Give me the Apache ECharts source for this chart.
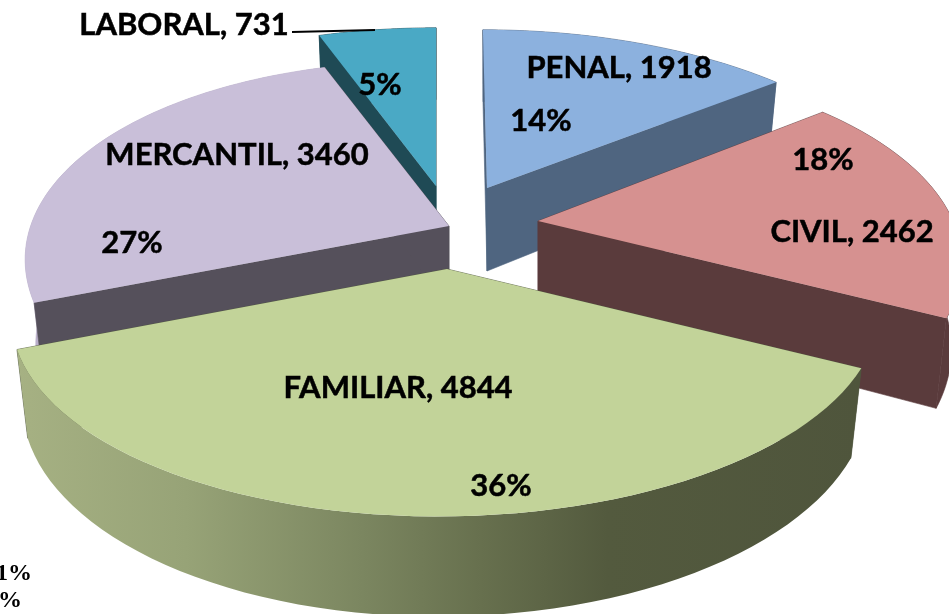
<!DOCTYPE html>
<html>
<head>
<meta charset="utf-8">
<script src="https://cdn.jsdelivr.net/npm/echarts@6/dist/echarts.min.js"></script>
<style>
html, body { margin: 0; padding: 0; background: #fff; }
#main { width: 949px; height: 614px; }
</style>
</head>
<body>
<div id="main"></div>
<script>
// datos
var categories = ['PENAL', 'CIVIL', 'FAMILIAR', 'MERCANTIL', 'LABORAL'];
var values = [1918, 2462, 4844, 3460, 731];
var percents = ['14%', '18%', '36%', '27%', '5%'];
var strayLabels = ['1%', '%'];

// colores: cara superior, paredes, borde exterior
var topColors = ['#8cb1de', '#d69190', '#c2d399', '#c9bfd9', '#4aa9c5'];
var wallColors = ['#4f6580', '#5a3b3c', '#4f553f', '#55505b', '#1f4a55'];
var rimColors = ['#4f6580', '#5a3b3c', null, '#b9aec9', '#1f4a55'];

// vertice de cada porcion separada
var apexes = [[487, 188], [538, 221], [447, 269], [449, 226], [436, 186]];
// ajuste fino de cada porcion: escala x, escala y, inclinacion x, inclinacion y
var sliceFit = [
    [1.01, 1, -5, 0],
    [0.985, 1.01, 0, -3],
    [1.008, 1, 7, 0],
    [0.99, 1.04, -11, 7],
    [1, 1, 0, 0]
];
// orden de pintado, de atras hacia adelante
var drawOrder = [4, 0, 3, 1, 2];

// centros de los textos: nombre y porcentaje
var namePos = [[619, 68], [852, 232], [398, 388], [237, 155], [184, 25]];
var pctPos = [[541, 121], [823, 160], [501, 486], [132, 243], [380, 85]];

// perspectiva
var RX = 420, RY = 193, PERSP = 0.22, DEPTH = 83, BOTTOM_SCALE = 0.975;

var total = values.reduce(function (a, b) { return a + b; }, 0);

function sliceAngles(i) {
    var before = 0;
    for (var k = 0; k < i; k++) before += values[k];
    return [before / total * Math.PI * 2, (before + values[i]) / total * Math.PI * 2];
}

function planeOffset(i, t) {
    var w = 1 + PERSP * Math.cos(t), f = sliceFit[i];
    return [
        (f[0] * RX * Math.sin(t) + f[2] * Math.cos(t)) / w,
        (-f[1] * RY * Math.cos(t) + f[3] * Math.sin(t)) / w
    ];
}

function topPoint(i, t) {
    var o = planeOffset(i, t);
    return [apexes[i][0] + o[0], apexes[i][1] + o[1]];
}

function bottomPoint(i, t) {
    var o = planeOffset(i, t), w = 1 + PERSP * Math.cos(t);
    return [apexes[i][0] + BOTTOM_SCALE * o[0], apexes[i][1] + BOTTOM_SCALE * o[1] + DEPTH / w];
}

function apexBottom(i) {
    return [apexes[i][0], apexes[i][1] + DEPTH];
}

function poly(points, fill, seam) {
    return {
        type: 'polygon',
        shape: { points: points },
        style: { fill: fill, stroke: seam || null, lineWidth: seam ? 0.6 : 0 }
    };
}

function text(x, y, str) {
    return {
        type: 'text',
        z2: 100,
        style: {
            x: x, y: y, text: str, font: labelFont, fill: '#000',
            stroke: '#000', lineWidth: 0.5, align: 'center', verticalAlign: 'middle'
        }
    };
}

var labelFont = '700 31px Lato';

function renderSlice(params, api) {
    var i = api.value(0);
    var a = sliceAngles(i);
    var steps = 60, arcTop = [], arcBottom = [];
    for (var s = 0; s <= steps; s++) {
        var t = a[0] + (a[1] - a[0]) * s / steps;
        arcTop.push(topPoint(i, t));
        arcBottom.push(bottomPoint(i, t));
    }
    var apex = apexes[i], apexB = apexBottom(i);
    var rimFill = rimColors[i] || {
        type: 'linear', x: 17, y: 0, x2: 860, y2: 0, global: true,
        colorStops: [
            { offset: 0, color: '#a6b183' },
            { offset: 0.2, color: '#97a377' },
            { offset: 0.41, color: '#7b8660' },
            { offset: 0.55, color: '#67704e' },
            { offset: 0.7, color: '#535a3e' },
            { offset: 1, color: '#4f553c' }
        ]
    };
    var rim = poly(arcTop.concat(arcBottom.slice().reverse()), rimFill, rimColors[i]);
    var wallStart = poly([apex, arcTop[0], arcBottom[0], apexB], wallColors[i], wallColors[i]);
    var wallEnd = poly([apex, arcTop[steps], arcBottom[steps], apexB], wallColors[i], wallColors[i]);
    var mid = (a[0] + a[1]) / 2;
    var walls = Math.cos(mid) > 0 ? [rim, wallStart, wallEnd] : [wallStart, wallEnd, rim];
    var top = poly([apex].concat(arcTop), topColors[i]);
    return {
        type: 'group',
        children: walls.concat([
            top,
            text(namePos[i][0], namePos[i][1], categories[i] + ', ' + values[i]),
            text(pctPos[i][0], pctPos[i][1], percents[i])
        ])
    };
}

var myChart = echarts.init(document.getElementById('main'));
var option = {
    animation: false,
    backgroundColor: '#fff',
    series: [{
        type: 'custom',
        coordinateSystem: 'none',
        renderItem: renderSlice,
        data: drawOrder.map(function (i) { return [i]; }),
        silent: true
    }],
    graphic: [
        // linea guia de LABORAL
        { type: 'line', z: 10, shape: { x1: 292, y1: 32, x2: 375, y2: 30 }, style: { stroke: '#000', lineWidth: 1.8 } },
        { type: 'text', z: 10, style: { x: 32, y: 574, text: strayLabels[0], font: '700 24px "Liberation Serif"', fill: '#000', align: 'right', verticalAlign: 'middle' } },
        { type: 'text', z: 10, style: { x: 22, y: 601, text: strayLabels[1], font: '700 24px "Liberation Serif"', fill: '#000', align: 'right', verticalAlign: 'middle' } }
    ]
};
myChart.setOption(option);
</script>
</body>
</html>
